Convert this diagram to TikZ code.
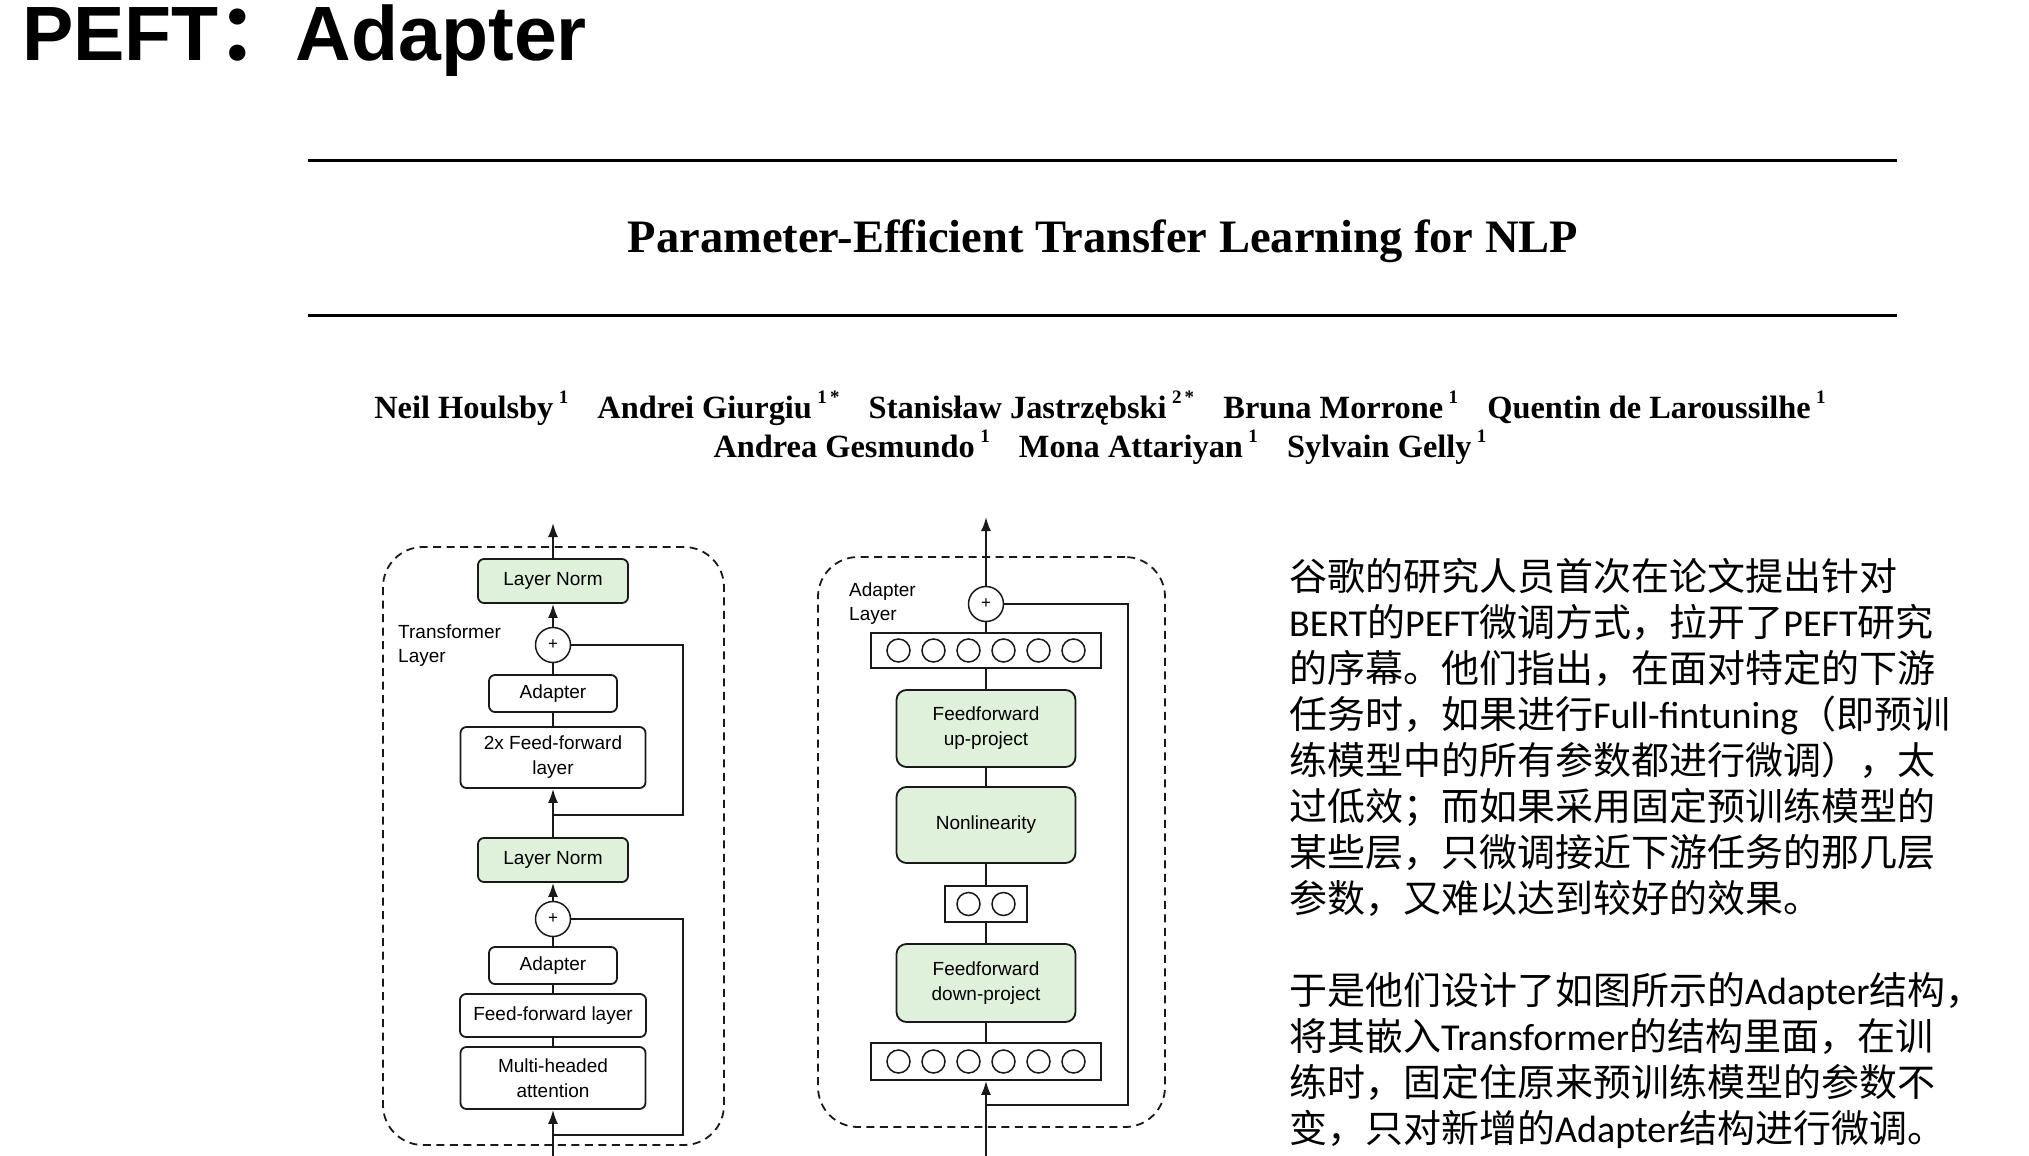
\documentclass[tikz,border=0pt]{standalone}
\usepackage{fontspec}
\setmainfont{Liberation Sans}
\newfontfamily\paperfont{Liberation Serif}
\newfontfamily\cjk{Noto Sans CJK SC}
\newfontfamily\lat{Carlito}
\usepackage{tikz}
\usetikzlibrary{arrows.meta,positioning,calc}
\definecolor{mint}{RGB}{223,241,219}
\definecolor{ink}{RGB}{25,25,25}
\newcommand\affil[1]{\,\raisebox{0.45em}{\fontsize{19}{19}\selectfont #1}\hspace{0.9em}}

\begin{document}
\begin{tikzpicture}[
  x=1pt,y=-1pt,
  frame/.style={draw=ink,line width=1.8pt,dash pattern=on 8pt off 5.5pt,rounded corners=40pt,inner sep=0pt},
  box/.style={draw=ink,line width=1.8pt,rounded corners=6pt,align=center,inner sep=0pt,font=\fontsize{19}{25}\selectfont},
  norm/.style={box,fill=mint},
  proj/.style={box,fill=mint,rounded corners=10pt},
  bar/.style={draw=ink,line width=1.8pt,inner sep=0pt},
  unit/.style={circle,draw=ink,line width=1.5pt,minimum size=23pt,inner sep=0pt},
  plus/.style={circle,draw=ink,line width=1.5pt,minimum size=35pt,inner sep=0pt,font=\fontsize{17}{17}\selectfont},
  lbl/.style={align=left,inner sep=0pt,anchor=base west,font=\fontsize{19}{24}\selectfont},
  note/.style={anchor=base west,align=left,inner sep=0pt,font=\cjk\fontsize{38}{46}\selectfont},
  wire/.style={draw=ink,line width=1.8pt},
  arr/.style={wire,-{Latex[length=14pt,width=10pt]}},
  rule/.style={line width=3pt}
]
\useasboundingbox (0,0) rectangle (2029,1156);

\node[anchor=base west,inner sep=0pt,font=\fontsize{77}{77}\selectfont\bfseries] (head) at (22,61) {PEFT{\cjk ：}Adapter};

\draw[rule] (308,160) -- (1897,160);
\draw[rule] (308,315) -- (1897,315);
\node[anchor=base,inner sep=0pt,font=\paperfont\bfseries\fontsize{46.5}{46.5}\selectfont] (paper) at (1103,252)
  {Parameter-Efficient Transfer Learning for NLP};
% base anchor sits on the last line
\node[anchor=base,align=center,inner sep=0pt,font=\paperfont\bfseries\fontsize{32.4}{39}\selectfont] (authors) at (1100,457)
  {Neil Houlsby\affil{1}Andrei Giurgiu\affil{1\,*}Stanisław Jastrzębski\affil{2\,*}Bruna Morrone\affil{1}Quentin de Laroussilhe\affil{1}\\
   Andrea Gesmundo\affil{1}Mona Attariyan\affil{1}Sylvain Gelly\affil{1}};

% transformer layer
\node[frame,minimum width=341pt,minimum height=598pt] (tframe) at (553.5,846) {};
\node[lbl] (tlabel) at (398,662) {Transformer\\Layer};
\node[norm,minimum width=150pt,minimum height=44pt] (ln1) at (553,581) {Layer Norm};
\node[plus] (add1) at (553,645) {+};
\node[box,minimum width=128pt,minimum height=37pt] (ad1) at (553,693.5) {Adapter};
\node[box,minimum width=185pt,minimum height=61pt] (ff2) at (553,757.5) {2x Feed-forward\\layer};
\node[norm,minimum width=150pt,minimum height=44pt] (ln2) at (553,860) {Layer Norm};
\node[plus] (add2) at (553,919) {+};
\node[box,minimum width=128pt,minimum height=37pt] (ad2) at (553,965.5) {Adapter};
\node[box,minimum width=186pt,minimum height=43pt] (ff1) at (553,1015.5) {Feed-forward layer};
\node[box,minimum width=185pt,minimum height=62pt] (mha) at (553,1078) {Multi-headed\\attention};
\coordinate (outL) at (553,523);
\coordinate (inL) at (553,1156);
\coordinate (j1) at (553,815);
\coordinate (s1) at (683,815);
\coordinate (j2) at (553,1135);
\coordinate (s2) at (683,1135);

\draw[arr] (ln1) -- (outL);
\draw[arr] (add1) -- (ln1);
\draw[wire] (ad1) -- (add1);
\draw[wire] (ff2) -- (ad1);
\draw[arr] (ln2) -- (ff2);
\draw[wire] (add1) -| (s1) -- (j1);
\draw[arr] (add2) -- (ln2);
\draw[wire] (ad2) -- (add2);
\draw[wire] (ff1) -- (ad2);
\draw[wire] (mha) -- (ff1);
\draw[arr] (inL) -- (mha);
\draw[wire] (add2) -| (s2) -- (j2);

% adapter layer
\node[frame,minimum width=347pt,minimum height=570pt] (aframe) at (991.5,842) {};
\node[lbl] (alabel) at (849,620) {Adapter\\Layer};
\node[plus] (add3) at (986,604) {+};
\node[bar,minimum width=230pt,minimum height=35pt] (top6) at (986,650.5) {};
\node[proj,minimum width=179pt,minimum height=77pt] (up) at (986,728.5) {Feedforward\\up-project};
\node[proj,minimum width=179pt,minimum height=76pt] (nonlin) at (986,825) {Nonlinearity};
\node[bar,minimum width=82pt,minimum height=36pt] (mid2) at (986,904) {};
\node[proj,minimum width=179pt,minimum height=78pt] (down) at (986,983) {Feedforward\\down-project};
\node[bar,minimum width=230pt,minimum height=37pt] (bot6) at (986,1061.5) {};
\foreach \i in {0,...,5} {
  \node[unit] (t\i) at ({898.5+35*\i},650.5) {};
  \node[unit] (b\i) at ({898.5+35*\i},1061.5) {};
}
\foreach \i in {0,1}
  \node[unit] (m\i) at ({968.5+35*\i},904) {};
\coordinate (outR) at (986,517);
\coordinate (inR) at (986,1156);
\coordinate (j3) at (986,1105);
\coordinate (s3) at (1128,1105);

\draw[arr] (add3) -- (outR);
\draw[wire] (top6) -- (add3);
\draw[wire] (up) -- (top6);
\draw[wire] (nonlin) -- (up);
\draw[wire] (mid2) -- (nonlin);
\draw[wire] (down) -- (mid2);
\draw[wire] (bot6) -- (down);
\draw[arr] (inR) -- (bot6);
\draw[wire] (add3) -| (s3) -- (j3);

% notes
\node[note] (note1) at (1289,912)
  {谷歌的研究人员首次在论文提出针对\\
   {\lat BERT}的{\lat PEFT}微调方式，拉开了{\lat PEFT}研究\\
   的序幕。他们指出，在面对特定的下游\\
   任务时，如果进行{\lat Full-fintuning}（即预训\\
   练模型中的所有参数都进行微调），太\\
   过低效；而如果采用固定预训练模型的\\
   某些层，只微调接近下游任务的那几层\\
   参数，又难以达到较好的效果。};
\node[note] (note2) at (1289,1142)
  {于是他们设计了如图所示的{\lat Adapter}结构，\\
   将其嵌入{\lat Transformer}的结构里面，在训\\
   练时，固定住原来预训练模型的参数不\\
   变，只对新增的{\lat Adapter}结构进行微调。};
\end{tikzpicture}
\end{document}
